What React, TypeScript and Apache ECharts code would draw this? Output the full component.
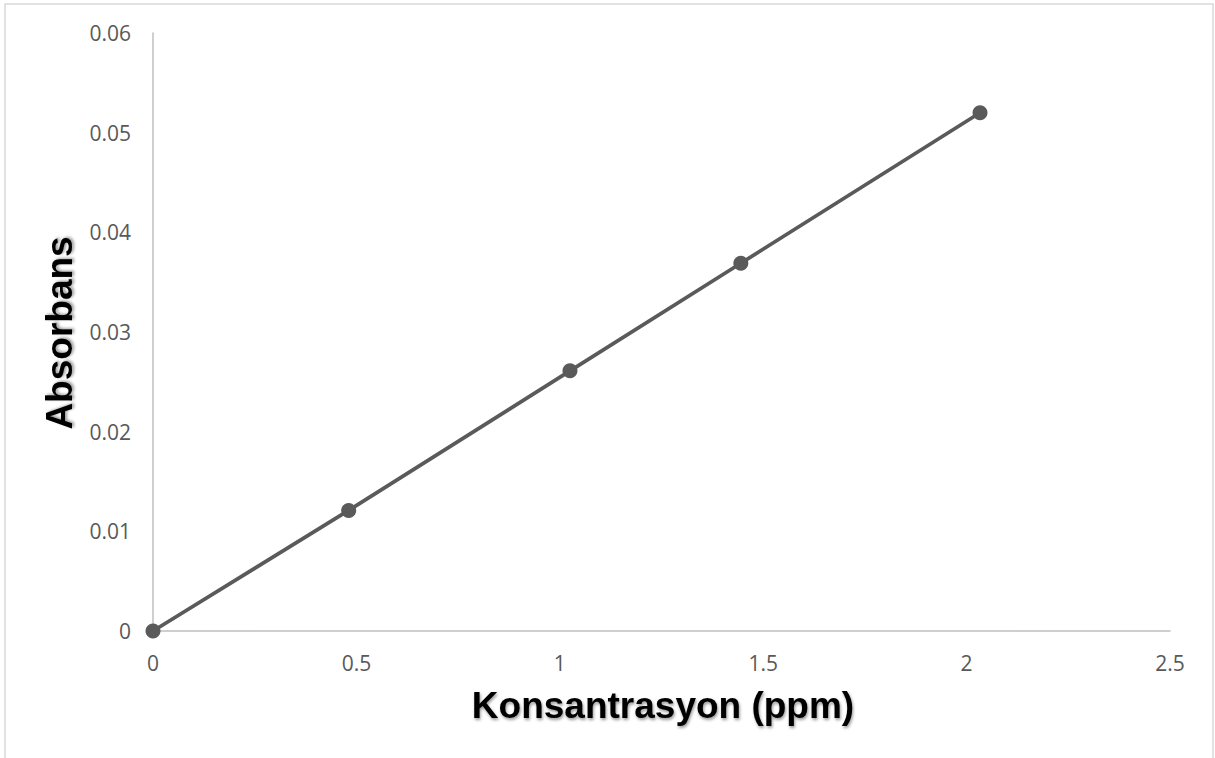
import React, { useEffect, useRef } from "react";
import * as echarts from "echarts";

const concentration = [0, 0.481, 1.025, 1.445, 2.033];
const absorbance = [0, 0.0121, 0.0261, 0.0369, 0.052];
const xTitle = "Konsantrasyon (ppm)";
const yTitle = "Absorbans";

export default function App() {
  const ref = useRef<HTMLDivElement>(null);
  useEffect(() => {
    if (!ref.current) return;
    const chart = echarts.init(ref.current, null, { renderer: "svg" });
    const labelStyle = {
      color: "#595959",
      fontSize: 21,
      fontFamily: "Open Sans",
    };
    const titleStyle = {
      fill: "#000",
      fontSize: 37,
      fontWeight: "bold",
      fontFamily: "Liberation Sans",
      textShadowColor: "rgba(0,0,0,0.4)",
      textShadowBlur: 3,
      textShadowOffsetX: 1,
      textShadowOffsetY: 2,
    };
    chart.setOption({
      animation: false,
      backgroundColor: "#fff",
      grid: { left: 153, top: 33, width: 1017, height: 598, containLabel: false },
      xAxis: {
        type: "value",
        min: 0,
        max: 2.5,
        interval: 0.5,
        axisLine: { show: true, lineStyle: { color: "#bfbfbf", width: 1.5 } },
        axisTick: { show: false },
        splitLine: { show: false },
        axisLabel: { ...labelStyle, margin: 21 },
      },
      yAxis: {
        type: "value",
        min: 0,
        max: 0.06,
        interval: 0.01,
        axisLine: { show: true, lineStyle: { color: "#bfbfbf", width: 1.5 } },
        axisTick: { show: false },
        splitLine: { show: false },
        axisLabel: { ...labelStyle, margin: 22 },
      },
      series: [
        {
          type: "line",
          data: concentration.map((x, i) => [x, absorbance[i]]),
          symbol: "circle",
          symbolSize: 15,
          lineStyle: { color: "#5a5a5a", width: 3.75 },
          itemStyle: { color: "#5a5a5a" },
        },
      ],
      graphic: [
        {
          type: "rect",
          shape: { x: 5, y: 4, width: 1208, height: 800 },
          style: { fill: "none", stroke: "#d9d9d9", lineWidth: 1.5 },
          silent: true,
        },
        {
          type: "text",
          x: 663,
          y: 705,
          style: { ...titleStyle, text: xTitle, align: "center", verticalAlign: "middle" },
        },
        {
          type: "text",
          x: 59,
          y: 333,
          rotation: Math.PI / 2,
          style: { ...titleStyle, text: yTitle, align: "center", verticalAlign: "middle" },
        },
      ],
    });
    return () => chart.dispose();
  }, []);
  return (
    <div
      ref={ref}
      style={{ position: "fixed", left: 0, top: 0, width: 1215, height: 758 }}
    />
  );
}
